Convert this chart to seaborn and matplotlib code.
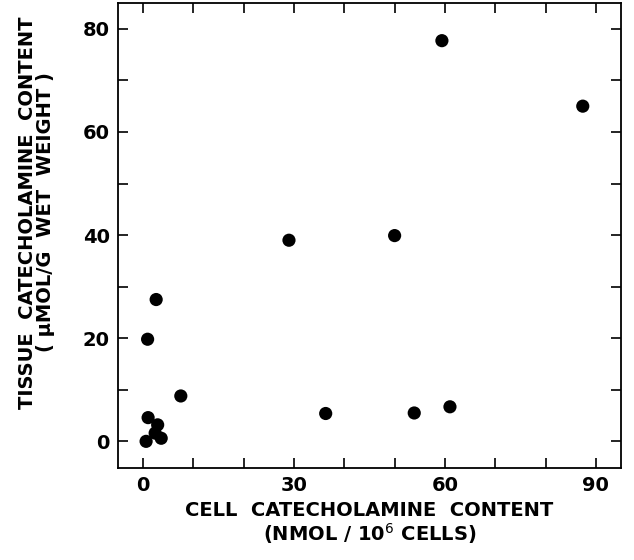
import seaborn as sns
import matplotlib.pyplot as plt
import pandas as pd

# values
cell_content = [59.4, 87.4, 29.0, 50.0, 2.6, 0.9, 7.5, 36.3, 53.9, 61.0,
                1.0, 2.9, 2.4, 3.6, 0.6]
tissue_content = [77.7, 65.0, 39.0, 39.9, 27.5, 19.8, 8.8, 5.4, 5.5, 6.7,
                  4.6, 3.2, 1.6, 0.6, 0.0]
x_ticks = [0, 30, 60, 90]
y_ticks = [0, 20, 40, 60, 80]

df = pd.DataFrame({"cell": cell_content, "tissue": tissue_content})

sns.set_style("ticks")
plt.rcParams["font.family"] = ["DejaVu Sans"]
plt.rcParams["text.color"] = "black"
plt.rcParams["axes.labelcolor"] = "black"

fig = plt.figure(figsize=(6.34, 5.6), dpi=100)
ax = fig.add_axes([0.186, 0.164, 0.7935, 0.8306])

sns.scatterplot(data=df, x="cell", y="tissue", color="black", s=90,
                edgecolor="none", ax=ax)

ax.set_xlim(-5, 95)
ax.set_ylim(-5.2, 85)
ax.set_xticks(range(0, 100, 10))
ax.set_xticklabels([str(v) if v in x_ticks else "" for v in range(0, 100, 10)])
ax.set_yticks(range(0, 90, 10))
ax.set_yticklabels([str(v) if v in y_ticks else "" for v in range(0, 90, 10)])
ax.tick_params(direction="in", length=7, width=1.2, top=True, right=True,
               labelsize=14, colors="black", pad=6)
for lbl in ax.get_xticklabels() + ax.get_yticklabels():
    lbl.set_fontweight("bold")
for sp in ax.spines.values():
    sp.set_linewidth(1.3)
    sp.set_color("black")

ax.set_xlabel("CELL  CATECHOLAMINE  CONTENT\n(NMOL / 10$^{6}$ CELLS)",
              fontsize=14, fontweight="bold", labelpad=4, linespacing=1.05)
ax.set_ylabel("TISSUE  CATECHOLAMINE  CONTENT\n( \u00b5MOL/G  WET  WEIGHT )",
              fontsize=14, fontweight="bold", linespacing=0.95)
ax.yaxis.set_label_coords(-0.125, 0.55)

fig.savefig("out.png", dpi=100)
